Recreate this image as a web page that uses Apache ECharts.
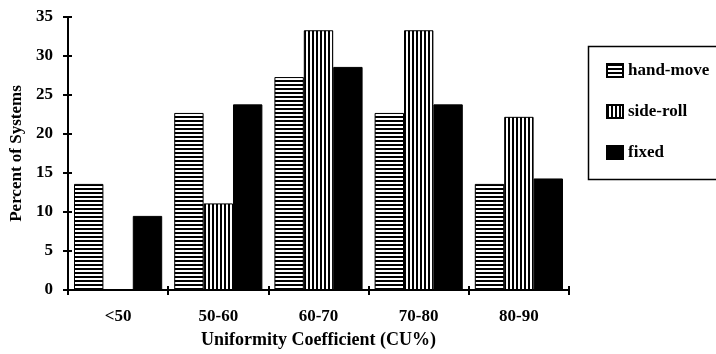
<!DOCTYPE html>
<html>
<head>
<meta charset="utf-8">
<script src="https://cdn.jsdelivr.net/npm/echarts@6/dist/echarts.min.js"></script>
<style>
  html, body { margin: 0; padding: 0; background: #fff; }
  #chart { width: 716px; height: 354px; }
</style>
</head>
<body>
<div id="chart"></div>
<script>
// Uniformity coefficient classes and share of systems (%) in each class
const categories = ['<50', '50-60', '60-70', '70-80', '80-90'];
const handMove = [13.6, 22.7, 27.3, 22.7, 13.6];
const sideRoll = [0, 11.1, 33.3, 33.3, 22.2];
const fixed = [9.5, 23.8, 28.6, 23.8, 14.3];
const yTicks = [0, 5, 10, 15, 20, 25, 30, 35];

const FONT = '"Liberation Serif", "Times New Roman", serif';

// striped fills for the hatched bars
function stripes(horizontal) {
  const c = document.createElement('canvas');
  c.width = 4; c.height = 4;
  const g = c.getContext('2d');
  g.fillStyle = '#fff';
  g.fillRect(0, 0, 4, 4);
  g.fillStyle = '#000';
  if (horizontal) g.fillRect(0, 0, 4, 2);
  else g.fillRect(0, 0, 2, 4);
  return { image: c, repeat: 'repeat' };
}
const hPattern = stripes(true);
const vPattern = stripes(false);

const chart = echarts.init(document.getElementById('chart'), null, { renderer: 'canvas' });

const labelStyle = { color: '#000', fontFamily: FONT, fontWeight: 'bold', fontSize: 17 };

chart.setOption({
  animation: false,
  backgroundColor: '#fff',
  grid: { left: 68, right: 147, top: 17, bottom: 64 },
  xAxis: [
    {
      type: 'category',
      data: categories,
      boundaryGap: true,
      axisLine: { lineStyle: { color: '#000', width: 2 } },
      axisTick: { show: true, length: 5, lineStyle: { color: '#000', width: 2 } },
      axisLabel: Object.assign({ margin: 18 }, labelStyle),
      name: 'Uniformity Coefficient (CU%)',
      nameLocation: 'middle',
      nameGap: 41,
      nameTextStyle: Object.assign({}, labelStyle, { fontSize: 18 })
    },
    {
      type: 'category',
      data: categories,
      position: 'bottom',
      boundaryGap: true,
      axisLine: { show: false },
      axisTick: { show: true, inside: true, length: 4, lineStyle: { color: '#000', width: 2 } },
      axisLabel: { show: false }
    }
  ],
  yAxis: [
    {
      type: 'value',
      min: yTicks[0],
      max: yTicks[yTicks.length - 1],
      interval: 5,
      splitLine: { show: false },
      axisLine: { show: true, lineStyle: { color: '#000', width: 2 } },
      axisTick: { show: true, length: 5, lineStyle: { color: '#000', width: 2 } },
      axisLabel: Object.assign({ margin: 15 }, labelStyle),
      name: 'Percent of Systems',
      nameLocation: 'middle',
      nameGap: 40,
      nameRotate: 90,
      nameTextStyle: Object.assign({}, labelStyle, { fontSize: 17 })
    },
    {
      type: 'value',
      position: 'left',
      min: yTicks[0],
      max: yTicks[yTicks.length - 1],
      interval: 5,
      splitLine: { show: false },
      axisLine: { show: false },
      axisTick: { show: true, inside: true, length: 4, lineStyle: { color: '#000', width: 2 } },
      axisLabel: { show: false }
    }
  ],
  legend: {
    orient: 'vertical',
    left: 601,
    top: 57,
    icon: 'rect',
    itemWidth: 16,
    itemHeight: 13,
    itemGap: 24,
    textStyle: Object.assign({}, labelStyle, { fontSize: 17 }),
    data: ['hand-move', 'side-roll', 'fixed']
  },
  graphic: [
    {
      type: 'rect',
      left: 586,
      top: 44,
      shape: { width: 129, height: 133 },
      style: { fill: 'none', stroke: '#000', lineWidth: 1.5 }
    }
  ],
  series: [
    {
      name: 'hand-move',
      type: 'bar',
      data: handMove,
      barGap: 0,
      barCategoryGap: '12%',
      itemStyle: { color: hPattern, borderColor: '#000', borderWidth: 1 }
    },
    {
      name: 'side-roll',
      type: 'bar',
      data: sideRoll,
      barGap: 0,
      barCategoryGap: '12%',
      itemStyle: { color: vPattern, borderColor: '#000', borderWidth: 1 }
    },
    {
      name: 'fixed',
      type: 'bar',
      data: fixed,
      barGap: 0,
      barCategoryGap: '12%',
      itemStyle: { color: '#000', borderColor: '#000', borderWidth: 1 }
    }
  ]
});
</script>
</body>
</html>
